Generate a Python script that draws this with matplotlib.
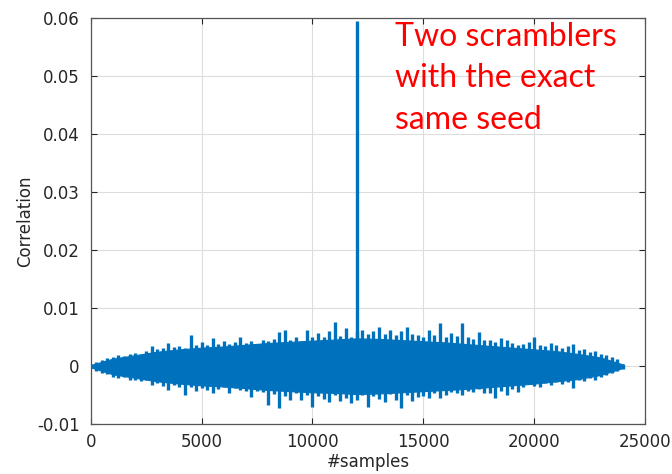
import numpy as np
import matplotlib.pyplot as plt

# sample index of the peak points (every 250 samples)
samples = np.arange(0, 24001, 250)

# upper extremes of the correlation noise (x 1e-3)
upper = [0.3, 0.8, 1.0, 1.4,
         1.6, 1.9, 1.7, 2.1,
         2.2, 2.0, 2.6, 3.5,
         2.9, 3.2, 4.0, 3.3,
         3.4, 3.1, 5.3, 3.6,
         4.1, 3.7, 4.8, 3.9,
         4.3, 3.9, 4.2, 5.0,
         4.0, 4.4, 3.8, 4.5,
         4.3, 4.7, 5.9, 6.2,
         4.6, 5.0, 4.4, 6.2,
         5.1, 5.7, 5.0, 6.0,
         7.6, 5.2, 6.5, 5.0,
         6.0, 6.2, 5.5, 6.0,
         6.7, 5.6, 6.2, 5.4,
         6.0, 6.7, 5.5, 5.3,
         5.0, 6.2, 5.4, 7.4,
         5.1, 5.8, 5.2, 7.4,
         5.0, 4.7, 5.9, 4.6,
         4.5, 4.2, 4.8, 4.6,
         4.0, 3.6, 3.9, 4.2,
         5.0, 3.7, 3.5, 4.0,
         3.6, 3.2, 3.4, 3.9,
         2.8, 3.0, 2.5, 2.6,
         2.1, 1.9, 1.6, 1.2,
         0.4]

# lower extremes (x 1e-3)
lower = [-0.3, -0.9, -1.2, -1.4,
         -1.8, -2.1, -1.9, -2.4,
         -2.3, -2.6, -2.4, -3.2,
         -2.9, -3.4, -4.1, -3.3,
         -3.5, -5.0, -3.6, -4.2,
         -3.7, -4.1, -4.7, -3.9,
         -3.6, -4.7, -3.8, -4.1,
         -4.3, -5.3, -4.2, -4.4,
         -6.7, -4.8, -7.2, -5.1,
         -5.9, -4.6, -5.8, -5.0,
         -7.0, -5.2, -5.6, -6.2,
         -5.0, -6.0, -5.4, -6.3,
         -5.9, -4.9, -7.0, -5.2,
         -5.6, -6.1, -4.8, -5.9,
         -7.2, -5.0, -6.0, -5.3,
         -5.1, -5.5, -4.6, -5.5,
         -4.9, -4.4, -4.7, -5.0,
         -4.2, -4.5, -4.0, -4.6,
         -4.7, -5.5, -4.2, -4.9,
         -4.0, -4.5, -3.6, -3.0,
         -3.4, -3.6, -2.9, -3.2,
         -2.7, -3.0, -2.8, -3.8,
         -2.4, -2.6, -2.1, -2.3,
         -1.9, -1.5, -1.2, -0.9,
         -0.4]

# dense body of the noise band (every 1000 samples, x 1e-3)
body_samples = np.arange(0, 24001, 1000)
body_up = [0.2, 1.3, 1.9, 2.5, 2.9, 3.2, 3.4, 3.7, 4.0, 4.2, 4.4, 4.6, 4.8,
           4.7, 4.5, 4.3, 4.1, 3.8, 3.5, 3.2, 2.9, 2.6, 2.1, 1.5, 0.3]
body_lo = [-0.2, -1.4, -2.0, -2.6, -3.0, -3.3, -3.5, -3.8, -4.1, -4.3, -4.5,
           -4.6, -4.8, -4.7, -4.5, -4.3, -4.1, -3.9, -3.6, -3.3, -3.0, -2.6,
           -2.2, -1.5, -0.3]

peak_sample = 12000
peak_value = 0.0595

blue = '#0072BD'
txt = '#262626'

fig = plt.figure(figsize=(6.72, 4.74), dpi=100)
ax = fig.add_axes([0.135, 0.105, 0.825, 0.857])
ax.fill_between(body_samples, np.array(body_lo) * 1e-3, np.array(body_up) * 1e-3,
                color=blue, lw=0.8, edgecolor=blue)
ax.vlines(samples, np.array(lower) * 1e-3, np.array(upper) * 1e-3,
          color=blue, lw=2.4)
ax.vlines(peak_sample, 0, peak_value, color=blue, lw=2.4)

ax.set_xlim(0, 25000)
ax.set_ylim(-0.01, 0.06)
ax.set_xticks([0, 5000, 10000, 15000, 20000, 25000])
ax.set_yticks([-0.01, 0, 0.01, 0.02, 0.03, 0.04, 0.05, 0.06])
ax.set_yticklabels(['-0.01', '0', '0.01', '0.02', '0.03', '0.04', '0.05', '0.06'])
ax.grid(True, color='#dddddd', lw=0.8)
ax.set_axisbelow(True)
ax.tick_params(direction='in', top=True, right=True, labelsize=12,
               colors=txt, length=4, width=0.8, pad=8)
ax.tick_params(axis='x', pad=6)
for s in ax.spines.values():
    s.set_color('#555555')
    s.set_linewidth(0.9)
ax.set_xlabel('#samples', fontsize=12, color=txt, labelpad=2)
ax.set_ylabel('Correlation', fontsize=12, color=txt, labelpad=2)

fig.text(395 / 672, 1 - 22 / 474, 'Two scramblers\nwith the exact\nsame seed',
         color='red', fontsize=23, family='Lato', va='top', ha='left',
         linespacing=1.47)

fig.savefig('out.png', dpi=100)
